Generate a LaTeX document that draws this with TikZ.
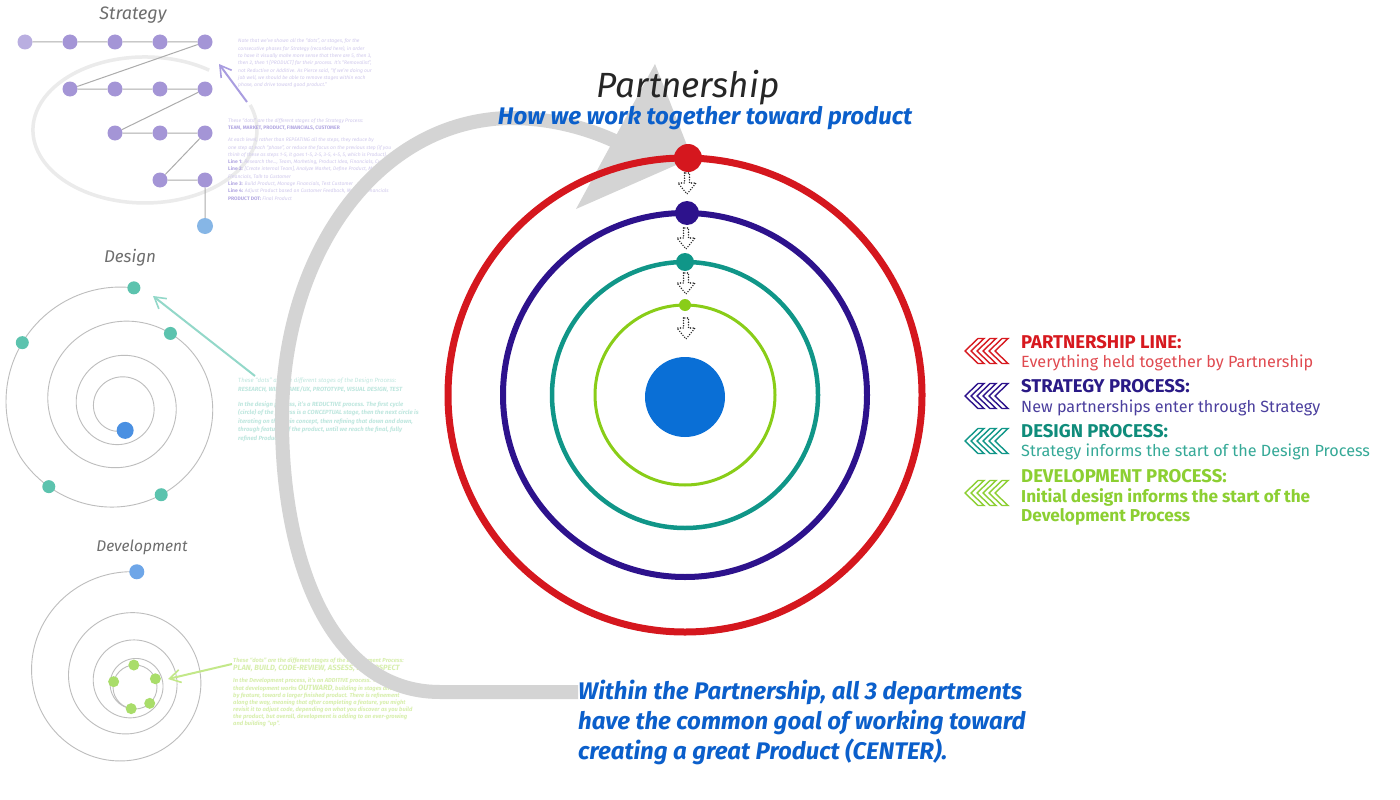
\documentclass[tikz,border=0pt]{standalone}
\usepackage{fontspec}
\setmainfont{Fira Sans}
\usetikzlibrary{arrows.meta}

% main rings
\definecolor{ringred}{HTML}{D5171E}
\definecolor{ringpurple}{HTML}{2D128C}
\definecolor{ringteal}{HTML}{109688}
\definecolor{ringgreen}{HTML}{89CD18}
\definecolor{coreblue}{HTML}{0A6FD6}
\definecolor{headblue}{HTML}{0B5FCB}
\definecolor{bandgray}{HTML}{D4D4D4}
% legend
\definecolor{legred}{HTML}{D7191F}
\definecolor{legredlt}{HTML}{E04A50}
\definecolor{legpurple}{HTML}{2A1A86}
\definecolor{legpurplelt}{HTML}{4B3F9E}
\definecolor{legteal}{HTML}{0F8C7B}
\definecolor{legteallt}{HTML}{35A997}
\definecolor{leggreen}{HTML}{8CCF32}
% side panels
\definecolor{sidegray}{HTML}{6E6E6E}
\definecolor{spiralgray}{HTML}{BDBDBD}
\definecolor{stratdot}{HTML}{A495D6}
\definecolor{stratlight}{HTML}{B9AEE0}
\definecolor{stratfaint}{HTML}{CFC8EC}
\definecolor{stratbold}{HTML}{B3A8E2}
\definecolor{stratarrow}{HTML}{A99DE0}
\definecolor{loopgray}{HTML}{EBEBEB}
\definecolor{designdot}{HTML}{5CC3AE}
\definecolor{designfaint}{HTML}{BFE7DF}
\definecolor{designarrow}{HTML}{93D8C9}
\definecolor{devdot}{HTML}{A9DD6A}
\definecolor{devfaint}{HTML}{D8EFAE}
\definecolor{devarrow}{HTML}{C3E889}
\definecolor{prodblue}{HTML}{86B6E6}
\definecolor{prodblue2}{HTML}{4A90E2}

\begin{document}
\begin{tikzpicture}[x=1pt,y=-1pt,
  declare function={
    dr(\u)=114*exp(-0.5*max(\u/360-0.35,0));
    vr(\u)=105*exp(-0.45*\u/360);
  },
  hdot/.style={circle, inner sep=0pt, minimum size=#1},
  sdot/.style={hdot=15pt, fill=stratdot},
  ddot/.style={hdot=13pt, fill=designdot},
  vdot/.style={hdot=11pt, fill=devdot},
  sline/.style={draw=gray!65, line width=1pt},
  spiral/.style={draw=spiralgray, line width=0.9pt},
  paneltitle/.style={inner sep=0pt, text=sidegray},
  faint/.style={anchor=north west, inner sep=0pt, align=left},
  thinarrow/.style={line width=2pt, -{Straight Barb[length=11pt,width=13pt,line width=1.6pt]}},
  chevs/.pic={\foreach \o in {0,12,24}{
      \draw[line width=1.4pt, line join=miter]
        (\o,0) -- (\o+13,-12.5) -- (\o+19,-12.5) -- (\o+6,0) -- (\o+19,12.5) -- (\o+13,12.5) -- cycle;}},
  dotarrow/.pic={\draw[line width=1.6pt, line cap=round, dash pattern=on 0pt off 2.6pt, black!85]
      (-2.5,-11) -- (-2.5,-1) -- (-9,-1) -- (0,10) -- (9,-1) -- (2.5,-1) -- (2.5,-11) -- cycle;},
  legtitle/.style={anchor=base west, inner sep=0pt, font=\fontsize{18.5}{22}\selectfont\bfseries},
  legtext/.style={anchor=base west, inner sep=0pt, font=\fontsize{16.2}{19}\selectfont}
]
\useasboundingbox (0,0) rectangle (1400,800);
\fill[white] (0,0) rectangle (1400,800);

% ---------------- Strategy panel ----------------
\node[paneltitle, font=\fontsize{18}{20}\selectfont\itshape] (stitle) at (133,15) {Strategy};
% return loop around the stages
\draw[loopgray, line width=3.5pt] (250.2,105) arc[start angle=-20, end angle=305, x radius=112, y radius=73];
\coordinate (sloopend) at (247,102);
\coordinate (sloopttip) at (219,64);
\draw[stratarrow, thinarrow] (sloopend) -- (sloopttip);

\node[sdot, fill=stratlight] (r1) at (25,42) {};
\node[sdot] (r2) at (70,42) {};
\node[sdot] (r3) at (115,42) {};
\node[sdot] (r4) at (160,42) {};
\node[sdot] (r5) at (205,42) {};
\node[sdot] (q1) at (70,89) {};
\node[sdot] (q2) at (115,89) {};
\node[sdot] (q3) at (160,89) {};
\node[sdot] (q4) at (205,89) {};
\node[sdot] (w1) at (115,133) {};
\node[sdot] (w2) at (160,133) {};
\node[sdot] (w3) at (205,133) {};
\node[sdot] (z1) at (160,180) {};
\node[sdot] (z2) at (205,180) {};
\node[hdot=16pt, fill=prodblue] (sp) at (205,226) {};
\draw[sline] (r1) -- (r2) -- (r3) -- (r4) -- (r5) -- (q1) -- (q2) -- (q3) -- (q4)
  -- (w1) -- (w2) -- (w3) -- (z1) -- (z2) -- (sp);

\node[faint, text=stratfaint, font=\fontsize{5}{7.3}\selectfont\itshape] (snote1) at (238,39)
{Note that we've shown all the “dots”, or stages, for the\\
consecutive phases for Strategy (recorded here), in order\\
to have it visually make more sense that there are 5, then 3,\\
then 2, then 1 [PRODUCT] for their process. It's “Removalist”,\\
not Reductive or Additive. As Pierce said, “If we're doing our\\
job well, we should be able to remove stages within each\\
phase, and drive toward good product.”};

\node[faint, text=stratfaint, font=\fontsize{5}{7.3}\selectfont\itshape] (snote2) at (228,118)
{These “dots” are the different stages of the Strategy Process:\\
{\upshape\bfseries\color{stratbold}TEAM, MARKET, PRODUCT, FINANCIALS, CUSTOMER}\\[5pt]
At each level, rather than REPEATING all the steps, they reduce by\\
one step at each “phase”, or reduce the focus on the previous step (if you\\
think of these as steps 1-5, it goes 1-5, 2-5, 3-5, 4-5, 5, which is Product).\\
{\upshape\bfseries\color{stratbold}Line 1:} Research the..., Team, Marketing, Product Idea, Financials, Customer\\
{\upshape\bfseries\color{stratbold}Line 2:} [Create internal Team], Analyze Market, Define Product, Manage\\
Financials, Talk to Customer\\
{\upshape\bfseries\color{stratbold}Line 3:} Build Product, Manage Financials, Test Customer\\
{\upshape\bfseries\color{stratbold}Line 4:} Adjust Product based on Customer Feedback, Manage Financials\\
{\upshape\bfseries\color{stratbold}PRODUCT DOT:} Final Product};

% ---------------- Design panel ----------------
\node[paneltitle, font=\fontsize{17}{20}\selectfont\itshape] (dtitle) at (130,258) {Design};
\draw[spiral] plot[domain=0:1280, samples=500, variable=\t]
  ({120+dr(\t)*cos(-83-\t)}, {401+7*\t/1280+dr(\t)*sin(-83-\t)});
\foreach \t/\nm in {0/g1,66/g2,147/g3,211/g4,331/g5}
  \node[ddot] (\nm) at ({120+dr(\t)*cos(-83-\t)}, {401+7*\t/1280+dr(\t)*sin(-83-\t)}) {};
\node[hdot=17pt, fill=prodblue2] (gp) at ({120+dr(1280)*cos(-1363)}, {408+dr(1280)*sin(-1363)}) {};
\coordinate (dstart) at (255,376);
\coordinate (dtip) at (153,296);
\draw[designarrow, thinarrow] (dstart) -- (dtip);

\node[faint, text=designfaint, font=\fontsize{6}{8.6}\selectfont\itshape] (dnote) at (238,378)
{These “dots” are the different stages of the Design Process:\\
{\bfseries RESEARCH, WIREFRAME/UX, PROTOTYPE, VISUAL DESIGN, TEST}\\[6pt]
\bfseries In the design process, it's a REDUCTIVE process. The first cycle\\
\bfseries (circle) of the process is a CONCEPTUAL stage, then the next circle is\\
\bfseries iterating on the main concept, then refining that down and down,\\
\bfseries through features of the product, until we reach the final, fully\\
\bfseries refined Product.};

% ---------------- Development panel ----------------
\node[paneltitle, font=\fontsize{15.5}{18}\selectfont\itshape] (vtitle) at (142,547) {Development};
\draw[spiral] plot[domain=0:1250, samples=500, variable=\t]
  ({124+11*\t/1250+vr(\t)*cos(-83-\t)}, {676+11*\t/1250+vr(\t)*sin(-83-\t)});
\draw[spiral] (135,687) circle[radius=22];
\node[hdot=15pt, fill=prodblue2!80] (vp) at ({124+105*cos(-83)}, {676+105*sin(-83)}) {};
\foreach \a/\nm in {-93/k1,-22/k2,48/k3,100/k4,-166/k5}
  \node[vdot] (\nm) at ({135+22*cos(\a)}, {687+22*sin(\a)}) {};
\coordinate (vstart) at (232,664);
\coordinate (vtip) at (168,679);
\draw[devarrow, thinarrow] (vstart) -- (vtip);

\node[faint, text=devfaint, font=\fontsize{5.8}{7}\selectfont\bfseries\itshape] (vnote) at (233,658)
{These “dots” are the different stages of the Development Process:\\[1pt]
{\fontsize{7.6}{9}\selectfont PLAN, BUILD, CODE-REVIEW, ASSESS, RETROSPECT}\\[5pt]
In the Development process, it's an ADDITIVE process. This means\\[1pt]
that development works {\fontsize{7.6}{9}\selectfont OUTWARD}, building in stages and feature\\
by feature, toward a larger finished product. There is refinement\\
along the way, meaning that after completing a feature, you might\\
revisit it to adjust code, depending on what you discover as you build\\
the product, but overall, development is adding to an ever-growing\\
and building “up”.};

% ---------------- Partnership rings ----------------
% sweeping return arrow behind the rings
\draw[bandgray, line width=14pt] (578,692) -- (440,692)
  .. controls (330,692) and (282,560) .. (282,420)
  .. controls (282,250) and (380,120) .. (510,118)
  .. controls (550,118) and (590,128) .. (625,146);
\fill[bandgray] (655,64) -- (692,158) -- (576,209) -- cycle;

\coordinate (ctr) at (685,395);
\draw[ringred, line width=7pt] (ctr) circle[radius=237];
\draw[ringpurple, line width=6pt] (ctr) circle[radius=182];
\draw[ringteal, line width=4.5pt] (ctr) circle[radius=133];
\draw[ringgreen, line width=3pt] (ctr) circle[radius=90];
\node[hdot=80pt, fill=coreblue] (core) at (685,397) {};

\node[hdot=28pt, fill=ringred] (pred) at (688,158) {};
\node[hdot=24pt, fill=ringpurple] (ppur) at (687,213) {};
\node[hdot=18pt, fill=ringteal] (ptea) at (685,262) {};
\node[hdot=12pt, fill=ringgreen] (pgre) at (685,305) {};

\pic at (687,184) {dotarrow};
\pic at (686,239) {dotarrow};
\pic at (686,284) {dotarrow};
\pic at (686,329) {dotarrow};

\node[inner sep=0pt, font=\fontsize{35}{40}\selectfont\itshape, text=black!85] (title) at (688,88) {Partnership};
\node[inner sep=0pt, font=\fontsize{24}{28}\selectfont\bfseries\itshape, text=headblue] (subtitle) at (705,118)
  {How we work together toward product};

\node[anchor=north west, inner sep=0pt, align=left, text=headblue,
  font=\fontsize{24}{30}\selectfont\bfseries\itshape] (goal) at (578,680)
{Within the Partnership, all 3 departments\\
have the common goal of working toward\\
creating a great Product (CENTER).};

% ---------------- Legend ----------------
\pic[draw=legred] at (965,351) {chevs};
\pic[draw=ringpurple] at (965,396) {chevs};
\pic[draw=ringteal] at (965,441) {chevs};
\pic[draw=leggreen] at (965,493) {chevs};

\node[legtitle, text=legred] (l1) at (1021,348) {PARTNERSHIP LINE:};
\node[legtext, text=legredlt] (l1t) at (1021,367) {Everything held together by Partnership};
\node[legtitle, text=legpurple] (l2) at (1021,392) {STRATEGY PROCESS:};
\node[legtext, text=legpurplelt] (l2t) at (1021,412) {New partnerships enter through Strategy};
\node[legtitle, text=legteal] (l3) at (1021,437) {DESIGN PROCESS:};
\node[legtext, text=legteallt] (l3t) at (1021,456) {Strategy informs the start of the Design Process};
\node[legtitle, text=leggreen] (l4) at (1021,482) {DEVELOPMENT PROCESS:};
\node[legtext, font=\fontsize{17.2}{20}\selectfont\bfseries, text=leggreen] (l4t) at (1021,502) {Initial design informs the start of the};
\node[legtext, font=\fontsize{17.2}{20}\selectfont\bfseries, text=leggreen] (l4u) at (1021,521) {Development Process};
\end{tikzpicture}
\end{document}
